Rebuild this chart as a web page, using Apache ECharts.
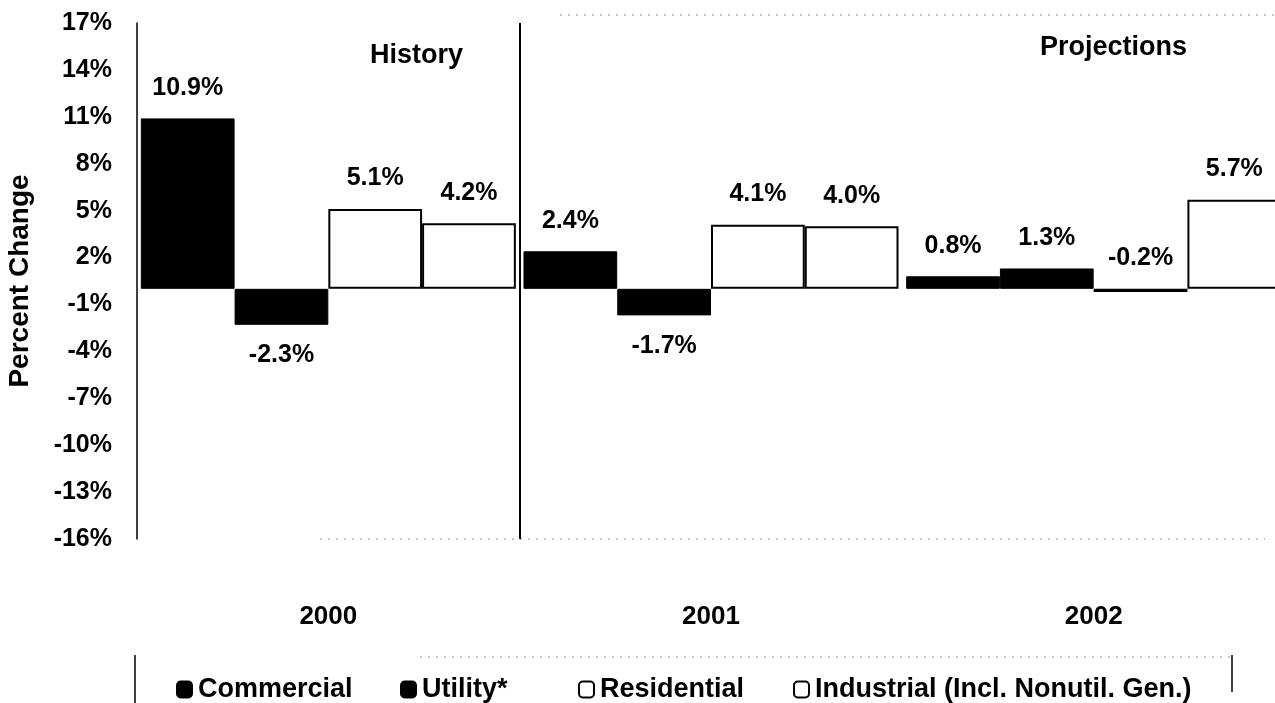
<!DOCTYPE html>
<html>
<head>
<meta charset="utf-8">
<script src="https://cdn.jsdelivr.net/npm/echarts@6/dist/echarts.min.js"></script>
<style>
  html, body { margin: 0; padding: 0; background: #fff; }
  #chart { width: 1275px; height: 703px; }
</style>
</head>
<body>
<div id="chart"></div>
<script>
// Annual percent change by sector
const years = ['2000', '2001', '2002'];
const commercial = [10.9, 2.4, 0.8];
const utility = [-2.3, -1.7, 1.3];
const residential = [5.1, 4.1, -0.2];
const industrial = [4.2, 4.0, 5.7];

const seriesNames = ['Commercial', 'Utility*', 'Residential', 'Industrial (Incl. Nonutil. Gen.)'];
const seriesValues = [commercial, utility, residential, industrial];
const filled = [true, true, false, false];
// boundary between the history and projection periods, in category units
const historyEnd = [1];

const FONT = '"Liberation Sans", Arial, sans-serif';
const txt = (size) => ({ fontFamily: FONT, fontWeight: 'bold', fontSize: size, color: '#000' });

function pctLabel(v) { return v.toFixed(1) + '%'; }

const series = seriesNames.map((name, i) => ({
  name: name,
  type: 'bar',
  barGap: '0%',
  barCategoryGap: '2%',
  itemStyle: filled[i]
    ? { color: '#000', borderColor: '#000', borderWidth: 1 }
    : { color: '#fff', borderColor: '#000', borderWidth: 2 },
  data: seriesValues[i].map(v => ({
    value: v,
    label: {
      show: true,
      // small negatives sit above the baseline, larger ones below the bar
      position: v >= -0.5 ? 'top' : 'bottom',
      distance: 18,
      formatter: pctLabel(v),
      ...txt(25)
    }
  }))
}));

// vertical rule separating the periods, on a hidden 0..3 value axis
series.push({
  type: 'scatter',
  xAxisIndex: 1,
  data: [],
  silent: true,
  markLine: {
    silent: true,
    symbol: 'none',
    label: { show: false },
    lineStyle: { color: '#000', type: 'solid', width: 2 },
    data: historyEnd.map(x => ({ xAxis: x }))
  }
});

// one legend block per entry so each can sit at its own spot
const legendLeft = [171, 395, 573, 788];
const legends = seriesNames.map((name, i) => ({
  left: legendLeft[i],
  top: 671,
  itemWidth: 15,
  itemHeight: 16,
  icon: 'roundRect',
  textStyle: { ...txt(27), padding: [0, 0, 0, 1] },
  data: [name]
}));

const chart = echarts.init(document.getElementById('chart'), null, { renderer: 'canvas' });
chart.setOption({
  animation: false,
  backgroundColor: '#fff',
  grid: { left: 137, right: -10, top: 23, bottom: 164, containLabel: false, outerBoundsMode: 'none' },
  xAxis: [{
    type: 'category',
    data: years,
    axisLine: { show: false },
    axisTick: { show: false },
    axisLabel: { margin: 65, ...txt(26) },
    splitLine: { show: false }
  }, {
    type: 'value',
    min: 0,
    max: 3,
    show: false
  }],
  yAxis: {
    type: 'value',
    min: -16,
    max: 17,
    interval: 3,
    name: 'Percent Change',
    nameLocation: 'middle',
    nameRotate: 90,
    nameGap: 103,
    nameTextStyle: { ...txt(28) },
    axisLine: { show: true, lineStyle: { color: '#000', width: 1.5 } },
    axisTick: { show: false },
    splitLine: { show: false },
    axisLabel: { margin: 25, formatter: '{value}%', ...txt(25) }
  },
  legend: legends,
  graphic: [
    { type: 'text', left: 370, top: 42, style: { text: 'History', font: 'bold 27px ' + FONT, fill: '#000' } },
    { type: 'text', left: 1040, top: 34, style: { text: 'Projections', font: 'bold 27px ' + FONT, fill: '#000' } },
    { type: 'line', shape: { x1: 135, y1: 655, x2: 135, y2: 703 }, style: { stroke: '#000', lineWidth: 1.5 } },
    { type: 'line', shape: { x1: 1232, y1: 655, x2: 1232, y2: 692 }, style: { stroke: '#000', lineWidth: 1.5 } },
    { type: 'line', shape: { x1: 420, y1: 657, x2: 1232, y2: 657 }, style: { stroke: '#888', lineWidth: 1, lineDash: [2, 6] } },
    { type: 'line', shape: { x1: 560, y1: 15, x2: 1275, y2: 15 }, style: { stroke: '#888', lineWidth: 1, lineDash: [2, 6] } },
    { type: 'line', shape: { x1: 320, y1: 539, x2: 1265, y2: 539 }, style: { stroke: '#888', lineWidth: 1, lineDash: [2, 6] } }
  ],
  series: series
});
</script>
</body>
</html>
